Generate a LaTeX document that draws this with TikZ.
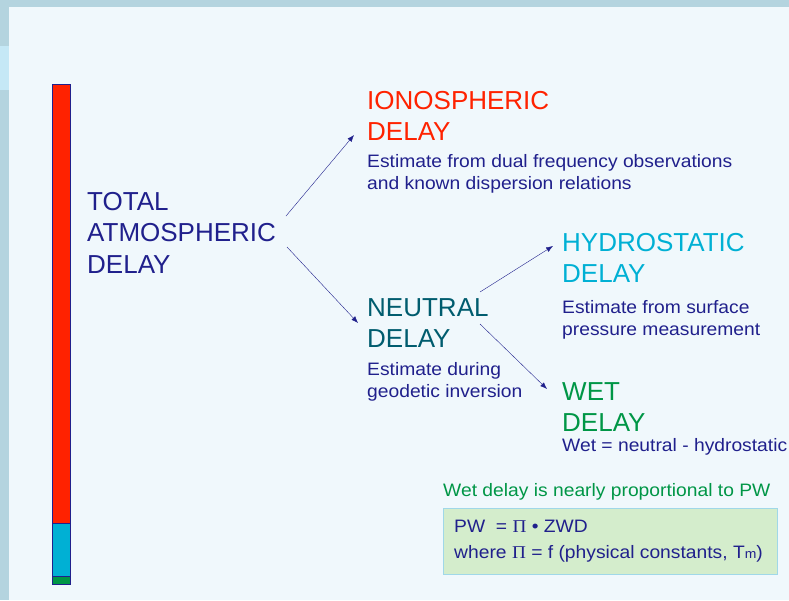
\documentclass[tikz,border=0pt]{standalone}
\usepackage{fontspec}
\setmainfont{Liberation Sans}
\newfontfamily\notefont[FakeStretch=1.07]{Liberation Sans}
\newfontfamily\pifont[FakeStretch=1.07]{Liberation Serif}
\usepackage{tikz}
\usetikzlibrary{arrows.meta,positioning}
\definecolor{framegray}{RGB}{180,212,223}
\definecolor{framelight}{RGB}{197,232,246}
\definecolor{panelblue}{RGB}{240,248,252}
\definecolor{textnavy}{RGB}{32,32,140}
\definecolor{ionored}{RGB}{255,34,0}
\definecolor{neutralteal}{RGB}{0,92,110}
\definecolor{hydrocyan}{RGB}{0,176,212}
\definecolor{wetgreen}{RGB}{0,150,70}
\definecolor{boxgreen}{RGB}{212,237,204}
\definecolor{boxedge}{RGB}{160,216,232}

\begin{document}
\begin{tikzpicture}[x=1pt,y=-1pt]
  \tikzstyle{title}=[anchor=north west,inner sep=0pt,align=left,font=\fontsize{26}{31.5}\selectfont]
  \tikzstyle{note}=[anchor=north west,inner sep=0pt,align=left,text=textnavy,font=\notefont\fontsize{18}{22.5}\selectfont]
  \tikzstyle{link}=[draw=textnavy,-{Latex[length=2.4mm,width=1.8mm]}]

  % background
  \fill[framegray] (0,0) rectangle (789,600);
  \fill[framelight] (0,46) rectangle (9,90);
  \fill[panelblue] (9,7) rectangle (789,600);
  \useasboundingbox (0,0) rectangle (789,600);

  % delay bar
  \draw[textnavy,fill=ionored] (52,84) rectangle (70,523);
  \draw[textnavy,fill=hydrocyan] (52,523) rectangle (70,576);
  \draw[textnavy,fill=wetgreen] (52,576) rectangle (70,584);

  \node[title,text=textnavy] (total) at (87,192) {TOTAL\\ATMOSPHERIC\\DELAY};

  \node[title,text=ionored] (iono) at (367,91) {IONOSPHERIC\\DELAY};
  \node[note,below=13pt of iono.south west,anchor=north west] (ionotxt) {Estimate from dual frequency observations\\and known dispersion relations};

  \node[title,text=neutralteal] (neutral) at (367,298) {NEUTRAL\\DELAY};
  \node[note,below=14pt of neutral.south west,anchor=north west] (neutraltxt) {Estimate during\\geodetic inversion};

  \node[title,text=hydrocyan] (hydro) at (562,233) {HYDROSTATIC\\DELAY};
  \node[note,below=17pt of hydro.south west,anchor=north west] (hydrotxt) {Estimate from surface\\pressure measurement};

  \node[title,text=wetgreen] (wet) at (562,382) {WET\\DELAY};
  \node[note,below=6pt of wet.south west,anchor=north west] (wettxt) {Wet = neutral - hydrostatic};

  \node[note,text=wetgreen] (pwnote) at (443,483) {Wet delay is nearly proportional to PW};
  \node[draw=boxedge,fill=boxgreen,anchor=north west,minimum width=334pt,minimum height=66pt,
        inner sep=0pt] (pwbox) at (443,508) {};
  \node[note,font=\notefont\fontsize{18}{26}\selectfont] (pwtxt) at (454,520)
    {PW\ \ = {\pifont Π} • ZWD\\where {\pifont Π} = f (physical constants, T{\fontsize{13}{13}\selectfont m})};

  \draw[link] (286,216) -- (354,135);
  \draw[link] (287,247) -- (358,323);
  \draw[link] (480,292) -- (553,246);
  \draw[link] (480,324) -- (547,389);
\end{tikzpicture}
\end{document}
